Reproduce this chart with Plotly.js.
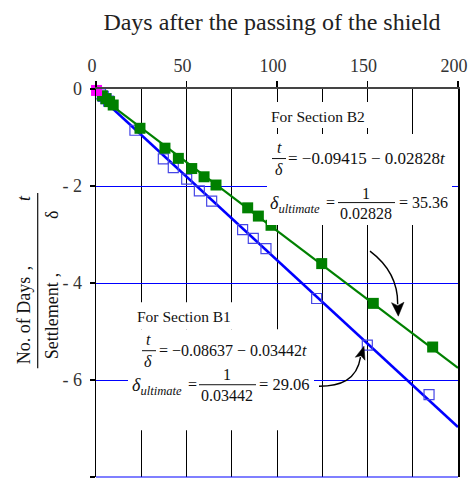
<!DOCTYPE html>
<html>
<head>
<meta charset="utf-8">
<script src="https://cdn.plot.ly/plotly-3.0.1.min.js"></script>
<style>
  html, body { margin: 0; padding: 0; background: #fff; }
  #chart { width: 470px; height: 485px; }
</style>
</head>
<body>
<div id="chart"></div>
<script>
// Settlement records after the shield passed, plotted as t/δ against t
const daysB2 = [3.5, 5.5, 7.5, 9.5, 24.3, 38.1, 45.5, 52.9, 59.7, 66.3, 83.8, 89.7, 96.7, 124.7, 153.2, 186];
const ratioB2 = [-0.14, -0.2, -0.26, -0.33, -0.81, -1.22, -1.43, -1.64, -1.81, -1.98, -2.45, -2.62, -2.81, -3.60, -4.42, -5.32];

const daysB1 = [2.5, 4, 5.5, 7, 21.5, 37.2, 42.7, 50.1, 57.1, 63.9, 81.0, 86.9, 93.9, 121.9, 149.9, 184];
const ratioB1 = [-0.1, -0.15, -0.2, -0.25, -0.85, -1.44, -1.62, -1.86, -2.10, -2.31, -2.90, -3.08, -3.29, -4.32, -5.28, -6.30];

const daysStart = [0.3];
const ratioStart = [-0.03];

// Fitted hyperbolic lines t/δ = a + b·t
const fitB2 = { a: -0.09415, b: -0.02828 };
const fitB1 = { a: -0.08637, b: -0.03442 };
const fitDays = [0, 200];

const xTickVals = [0, 50, 100, 150, 200];
const xMinorVals = [25, 75, 125, 175];
const yTickVals = [0, -2, -4, -6, -8];
const yTickText = ['0', '- 2', '- 4', '- 6', '- 8'];

const FONT = 'Liberation Serif, Times New Roman, serif';

// pixel -> paper helpers for the decorations around the plot area
const X0 = 96, X1 = 458, Y0 = 89, Y1 = 476.7;
const px = x => (x - X0) / (X1 - X0);
const py = y => 1 - (y - Y0) / (Y1 - Y0);

function pathStr(cmds) {
  // cmds: [['M',x,y], ['C',x1,y1,x2,y2,x,y], ['L',x,y], ['Z']]
  return cmds.map(c => {
    if (c[0] === 'Z') return 'Z';
    const nums = [];
    for (let i = 1; i < c.length; i += 2) nums.push(px(c[i]).toFixed(5) + ',' + py(c[i + 1]).toFixed(5));
    return c[0] + ' ' + nums.join(' ');
  }).join(' ');
}

function fitLine(fit) {
  return fitDays.map(t => fit.a + fit.b * t);
}

const traces = [
  { x: fitDays, y: fitLine(fitB1), mode: 'lines', line: { color: '#0000ff', width: 2.6 }, hoverinfo: 'skip' },
  { x: fitDays, y: fitLine(fitB2), mode: 'lines', line: { color: '#008000', width: 2.2 }, hoverinfo: 'skip' },
  { x: daysB1, y: ratioB1, mode: 'markers', cliponaxis: false,
    marker: { symbol: 'square-open', size: 10, color: '#4646e6', line: { width: 1.2 } } },
  { x: daysB2, y: ratioB2, mode: 'markers', cliponaxis: false,
    marker: { symbol: 'square', size: 11, color: '#008000', line: { width: 0 } } },
  { x: daysStart, y: ratioStart, mode: 'markers', cliponaxis: false,
    marker: { symbol: 'square', size: 11, color: '#ff00ff', line: { width: 0 } } }
];

function T(text, x, y, size, extra) {
  return Object.assign({
    text: text, xref: 'paper', yref: 'paper', x: px(x), y: py(y),
    xanchor: 'center', yanchor: 'middle', showarrow: false,
    font: { family: FONT, size: size, color: '#111' }
  }, extra || {});
}

const annotations = [
  // Section B2
  T('For Section B2', 318, 116, 15.5),
  T('<i>t</i>', 279, 147, 16),
  T('<i>δ</i>', 279, 169, 16),
  T('= −0.09415 − 0.02828<i>t</i>', 286, 158.5, 17, { xanchor: 'left' }),
  T('<i>δ<sub>ultimate</sub></i>', 268, 204, 18, { xanchor: 'left' }),
  T('=', 330, 202, 16),
  T('1', 366, 193, 16),
  T('0.02828', 366, 213, 16),
  T('= 35.36', 397, 202, 16, { xanchor: 'left' }),
  // Section B1
  T('For Section B1', 184, 316, 15.5),
  T('<i>t</i>', 148, 339, 16),
  T('<i>δ</i>', 148, 361, 16),
  T('= −0.08637 − 0.03442<i>t</i>', 157, 350, 16, { xanchor: 'left' }),
  T('<i>δ<sub>ultimate</sub></i>', 130, 386, 18, { xanchor: 'left' }),
  T('=', 192, 384, 16),
  T('1', 227, 374, 16),
  T('0.03442', 227, 395, 16),
  T('= 29.06', 257, 384, 16.5, { xanchor: 'left' }),
  // y-axis title drawn as a fraction
  T('No. of Days', 24, 320, 18, { textangle: -90 }),
  T(',', 24, 268, 18, { textangle: -90 }),
  T('<i>t</i>', 24, 198, 18, { textangle: -90 }),
  T('Settlement', 52, 321, 18, { textangle: -90 }),
  T(',', 52, 275, 18, { textangle: -90 }),
  T('δ', 52, 215, 18, { textangle: -90 })
];

function box(x0, y0, x1, y1) {
  return { type: 'rect', xref: 'paper', yref: 'paper', layer: 'above',
    x0: px(x0), x1: px(x1), y0: py(y0), y1: py(y1),
    fillcolor: '#ffffff', line: { width: 0 } };
}
function seg(x0, y0, x1, y1, color, width) {
  return { type: 'line', xref: 'paper', yref: 'paper', layer: 'above',
    x0: px(x0), x1: px(x1), y0: py(y0), y1: py(y1),
    line: { color: color, width: width } };
}
function curve(cmds, fill) {
  return { type: 'path', xref: 'paper', yref: 'paper', layer: 'above',
    path: pathStr(cmds), fillcolor: fill ? '#000' : 'rgba(0,0,0,0)',
    line: { color: '#000', width: fill ? 0.5 : 1.4 } };
}

const shapes = [
  // white panels behind the equations
  box(268, 102, 370, 128),
  box(267, 134, 452, 225),
  box(128, 302, 268, 329),
  box(128, 329, 314, 430),
  // fraction bars
  seg(272, 158.5, 286, 158.5, '#111', 1),
  seg(338, 202.5, 395, 202.5, '#111', 1),
  seg(142, 350.5, 156, 350.5, '#111', 1),
  seg(199, 384.5, 256, 384.5, '#111', 1),
  seg(37.7, 193, 37.7, 368, '#111', 1.2),
  // bottom border
  seg(96, 476.7, 458, 476.7, '#0000ff', 1.2),
  // curved pointers
  curve([['M', 370, 251], ['C', 386, 263, 398, 280, 397.7, 304]], false),
  curve([['M', 398.3, 316], ['L', 391.5, 302.5], ['L', 397.7, 305.5], ['L', 404, 302], ['Z']], true),
  curve([['M', 319, 386], ['C', 340, 386, 357, 380, 360.5, 357]], false),
  curve([['M', 364, 346], ['L', 355.3, 357], ['L', 361, 355.5], ['L', 365, 360], ['Z']], true)
];

const layout = {
  width: 470, height: 485,
  margin: { l: 96, r: 12, t: 89, b: 8, pad: 0 },
  paper_bgcolor: '#fff', plot_bgcolor: '#fff',
  showlegend: false,
  title: {
    text: 'Days after the passing of the shield',
    font: { family: FONT, size: 24, color: '#222' },
    xref: 'paper', x: px(272), xanchor: 'center',
    yref: 'container', y: 1 - 22 / 485, yanchor: 'middle'
  },
  xaxis: {
    side: 'top', range: [0, 200], tickvals: xTickVals,
    ticks: 'outside', ticklen: 6, tickwidth: 1.2, tickcolor: '#000',
    showgrid: true, gridcolor: '#000', gridwidth: 1,
    minor: { tickvals: xMinorVals, showgrid: true, gridcolor: '#000', gridwidth: 1, ticks: '' },
    showline: true, linecolor: '#444', linewidth: 2, zeroline: false,
    tickfont: { family: FONT, size: 18, color: '#333' },
    ticklabelshift: -4, ticklabelstandoff: 2, fixedrange: true
  },
  yaxis: {
    range: [-8, 0], tickvals: yTickVals, ticktext: yTickText,
    ticks: 'outside', ticklen: 5, tickwidth: 1.2, tickcolor: '#000',
    showgrid: true, gridcolor: '#0000ff', gridwidth: 1,
    showline: true, linecolor: '#000', linewidth: 1.5, mirror: true, zeroline: false,
    tickfont: { family: FONT, size: 18, color: '#333' },
    ticklabelstandoff: 4, fixedrange: true
  },
  annotations: annotations,
  shapes: shapes
};

Plotly.newPlot('chart', traces, layout, { displayModeBar: false, staticPlot: true });
</script>
</body>
</html>
